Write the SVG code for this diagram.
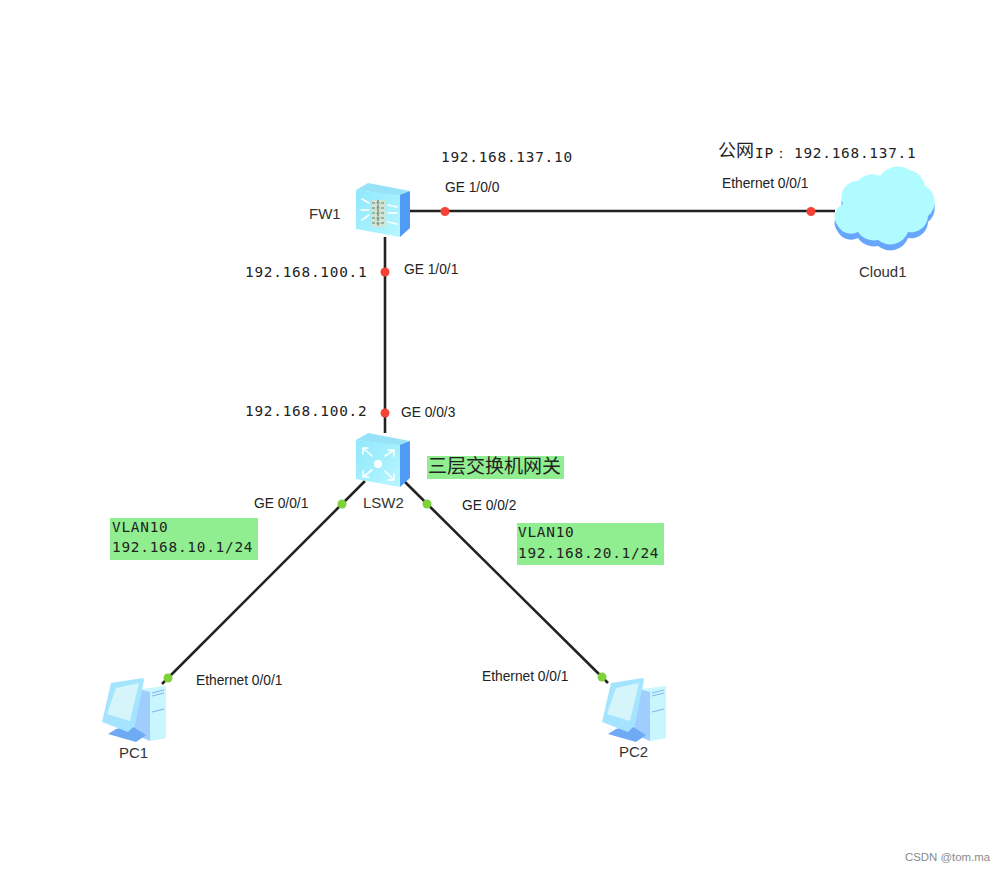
<svg xmlns="http://www.w3.org/2000/svg" width="1004" height="871" viewBox="0 0 1004 871">
<style>
.l{font-family:"Liberation Sans",Arial,sans-serif;font-size:13.800px;letter-spacing:-0.020px;fill:#222}
.n{font-family:"Liberation Sans",Arial,sans-serif;font-size:15px;fill:#333}
.m{font-family:"DejaVu Sans Mono","Liberation Mono",monospace;font-size:14.400px;letter-spacing:0.750px;fill:#222}
.c{font-family:"Noto Sans CJK SC",sans-serif;fill:#222}
.g{fill:#90ee90}
.w{stroke:#222;stroke-width:2.600;fill:none}
.r{fill:#f44336}
.d{fill:#7fd13b}
.a{stroke:#fff;stroke-width:1.600;fill:none;stroke-linecap:round}
</style>
<defs>
<linearGradient id="f" x1="0" y1="0" x2="1" y2="1"><stop offset="0" stop-color="#8fe8fc"/><stop offset="1" stop-color="#b8f6ff"/></linearGradient>
<path id="cl" d="M838 226 A14 14 0 0 1 843 204 A16 16 0 0 1 858 181 A18 18 0 0 1 880 176 A22 22 0 0 1 910 170 A20 20 0 0 1 925 186 A18 18 0 0 1 928 216 A17 17 0 0 1 908 232 A19 19 0 0 1 878 240 A19 19 0 0 1 858 232 A15 15 0 0 1 838 226 Z"/>
<g id="box">
<path d="M356 190 L368 183 L410 191 L401 196 Z" fill="#98e2f8"/>
<path d="M400 195 L410 191 V228 L400 237 Z" fill="#4f9bf5"/>
<path d="M356 190 L400 195 V237 L356 229 Z" fill="url(#f)"/>
</g>
<g id="pc">
<path d="M134 690 L166 686 V738 L150 741 L134 734 Z" fill="#c9f5ff"/>
<path d="M134 688 L150 692 V741 L134 734 Z" fill="#9fcdfd"/>
<path d="M150 692 L166 686 V738 L150 741 Z" fill="#c9f5ff"/>
<path d="M152 693 L164 690 M152 696 L164 693 M152 712 L164 709" stroke="#7fb5ee" stroke-width="1"/>
<path d="M116 729 L130 725 L146 735 L136 742 L108 734 Z" fill="#6faaf5"/>
<path d="M111 683 L143 678 L144 680 L135 725 L128 732 L102 722 Z" fill="#a4e4ff"/>
<path d="M116 688 L139 683 L130 721 L107 714 Z" fill="#d5f5fa"/>
</g>
</defs>
<rect width="1004" height="871" fill="#fff"/>
<g id="connectors">
<path class="w" d="M410 211 H835"/>
<path class="w" d="M385 237 V433"/>
<path class="w" d="M365 481 L162 684"/>
<path class="w" d="M404 481 L608 683"/>
</g>
<g id="FW1">
<use href="#box"/>
<rect x="372" y="200" width="13" height="27" fill="#d4e4d4"/>
<path d="M372 203 H385 M372 208 H385 M372 213 H385 M372 218 H385 M372 223 H385 M378 200 V227" stroke="#5f8070" stroke-width="1.200" stroke-dasharray="3 1.500"/>
<path class="a" d="M362 199 L369 203 M361 210 L369 210 M362 220 L369 215 M388 205 L397 207 M388 213 L397 213 M388 222 L397 224"/>
<text class="n" x="309" y="219">FW1</text>
</g>
<g id="Cloud1">
<use href="#cl" y="6" fill="#67a6fa"/>
<use href="#cl" fill="#b0fbff"/>
<text class="n" x="859" y="277">Cloud1</text>
</g>
<g id="LSW2">
<use href="#box" y="250"/>
<circle cx="378" cy="464" r="4" fill="#fff"/>
<path class="a" stroke-width="2.500" d="M363 448 L372 456 M363 448 V454 M363 448 H368 M394 450 L385 456 M394 450 V456 M394 450 H388 M363 477 L372 470 M363 477 H369 M363 477 V471 M394 480 L385 471 M394 480 V474 M394 480 H388"/>
<text class="n" x="363" y="508">LSW2</text>
</g>
<g id="PC1">
<use href="#pc"/>
<text class="n" x="119" y="758">PC1</text>
</g>
<g id="PC2">
<use href="#pc" x="500"/>
<text class="n" x="619" y="757">PC2</text>
</g>
<g id="ports">
<circle class="r" cx="445" cy="211.500" r="4.500"/>
<circle class="r" cx="811" cy="211.500" r="4.500"/>
<circle class="r" cx="385" cy="272" r="4.500"/>
<circle class="r" cx="385" cy="413" r="4.500"/>
<circle class="d" cx="342" cy="504" r="4.500"/>
<circle class="d" cx="427" cy="504" r="4.500"/>
<circle class="d" cx="168" cy="678" r="4.500"/>
<circle class="d" cx="602" cy="677" r="4.500"/>
</g>
<g id="labels">
<text class="l" x="445" y="192">GE 1/0/0</text>
<text class="l" x="722" y="188">Ethernet 0/0/1</text>
<text class="l" x="404" y="274">GE 1/0/1</text>
<text class="l" x="401" y="417">GE 0/0/3</text>
<text class="l" x="254" y="508">GE 0/0/1</text>
<text class="l" x="462" y="510">GE 0/0/2</text>
<text class="l" x="196" y="685">Ethernet 0/0/1</text>
<text class="l" x="482" y="681">Ethernet 0/0/1</text>
<text class="m" x="441" y="162">192.168.137.10</text>
<text class="m" x="245" y="277">192.168.100.1</text>
<text class="m" x="245" y="416">192.168.100.2</text>
<text class="c" x="718" y="157" font-size="18">公网</text>
<text class="m" x="755" y="158">IP：</text>
<text class="m" x="794" y="158">192.168.137.1</text>
<rect class="g" x="427" y="456" width="137" height="23"/>
<text class="c" x="428" y="473" font-size="19">三层交换机网关</text>
<rect class="g" x="110" y="518" width="148" height="42"/>
<text class="m" x="112" y="532">VLAN10</text>
<text class="m" x="112" y="552">192.168.10.1/24</text>
<rect class="g" x="517" y="523" width="147" height="42"/>
<text class="m" x="518" y="537">VLAN10</text>
<text class="m" x="518" y="558">192.168.20.1/24</text>
<text x="905" y="861" font-family="Liberation Sans,Arial,sans-serif" font-size="11.400" fill="#8a8a8a">CSDN @tom.ma</text>
</g>
</svg>
